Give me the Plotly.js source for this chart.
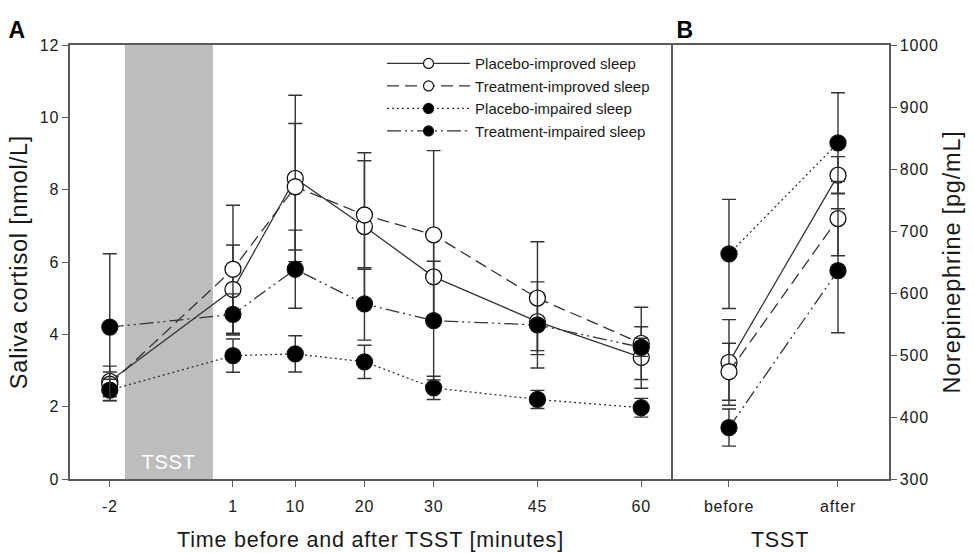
<!DOCTYPE html>
<html>
<head>
<meta charset="utf-8">
<script src="https://cdn.plot.ly/plotly-3.0.1.min.js"></script>
<style>
html,body{margin:0;padding:0;background:#fff;}
#chart{width:974px;height:553px;}
#chart text{letter-spacing:0.8px;}
#chart .legend text{letter-spacing:0;}
</style>
</head>
<body>
<div id="chart"></div>
<script>
// ---- Panel A: saliva cortisol ----
const timeLabels = ['-2', '1', '10', '20', '30', '45', '60'];
const timePos = [-16.8, 1, 10, 20, 30, 45, 60];

const seriesNames = ['Placebo-improved sleep', 'Treatment-improved sleep', 'Placebo-impaired sleep', 'Treatment-impaired sleep'];

const cortPlaceboImproved = [2.70, 5.24, 8.31, 6.98, 5.59, 4.35, 3.36];
const cortPlaceboImprovedSE = [0.42, 1.23, 2.30, 2.04, 1.16, 0.80, 0.85];
const cortTreatImproved = [2.62, 5.80, 8.08, 7.30, 6.75, 5.00, 3.75];
const cortTreatImprovedSE = [0.34, 1.77, 1.75, 1.50, 2.33, 1.56, 1.00];
const cortPlaceboImpaired = [2.46, 3.41, 3.46, 3.24, 2.52, 2.20, 1.97];
const cortPlaceboImpairedSE = [0.30, 0.46, 0.50, 0.46, 0.32, 0.25, 0.26];
const cortTreatImpaired = [4.20, 4.55, 5.80, 4.84, 4.38, 4.26, 3.64];
const cortTreatImpairedSE = [2.03, 0.57, 1.08, 1.00, 1.64, 1.19, 0.25];

// ---- Panel B: norepinephrine ----
const tsstLabels = ['before', 'after'];
const nePlaceboImproved = [488, 790];
const nePlaceboImprovedSE = [69, 30];
const neTreatImproved = [473, 720];
const neTreatImprovedSE = [46, 60];
const nePlaceboImpaired = [663, 842];
const nePlaceboImpairedSE = [88, 81];
const neTreatImpaired = [383, 636];
const neTreatImpairedSE = [30, 100];

const tsstStart = -14.6, tsstEnd = -1.9;

const styles = [
  {dash: 'solid', fill: '#ffffff'},
  {dash: '12px,6px', fill: '#ffffff'},
  {dash: '2px,3px', fill: '#000000'},
  {dash: '14px,4px,2px,4px,2px,4px', fill: '#000000'}
];
const lineColor = '#333333';

function trace(x, y, se, i, xa, ya) {
  return {
    type: 'scatter', mode: 'lines+markers',
    x: x, y: y, xaxis: xa, yaxis: ya,
    name: seriesNames[i], showlegend: false,
    line: {color: lineColor, width: 1.3, dash: styles[i].dash},
    marker: {symbol: 'circle', size: 16, color: styles[i].fill, line: {color: '#111', width: 1.3}},
    error_y: {type: 'data', array: se, visible: true, color: lineColor, thickness: 1.4, width: 7}
  };
}
function legendTrace(i) {
  return {
    type: 'scatter', mode: 'lines+markers', x: [null], y: [null], xaxis: 'x', yaxis: 'y',
    name: seriesNames[i], showlegend: true,
    line: {color: lineColor, width: 1.3, dash: styles[i].dash},
    marker: {symbol: 'circle', size: 10, color: styles[i].fill, line: {color: '#111', width: 1.2}}
  };
}

const aVals = [cortPlaceboImproved, cortTreatImproved, cortPlaceboImpaired, cortTreatImpaired];
const aSE = [cortPlaceboImprovedSE, cortTreatImprovedSE, cortPlaceboImpairedSE, cortTreatImpairedSE];
const bVals = [nePlaceboImproved, neTreatImproved, nePlaceboImpaired, neTreatImpaired];
const bSE = [nePlaceboImprovedSE, neTreatImprovedSE, nePlaceboImpairedSE, neTreatImpairedSE];

const data = [];
for (let i = 0; i < 4; i++) data.push(trace(timePos, aVals[i], aSE[i], i, 'x', 'y'));
for (let i = 0; i < 4; i++) data.push(trace(tsstLabels, bVals[i], bSE[i], i, 'x2', 'y2'));
for (let i = 0; i < 4; i++) data.push(legendTrace(i));

const font = 'Liberation Sans, Arial, sans-serif';
const axisLine = '#5a5a5a';
const split = (671 - 70) / 819;

const layout = {
  width: 974, height: 553,
  margin: {l: 70, r: 85, t: 45, b: 74},
  paper_bgcolor: '#ffffff', plot_bgcolor: 'rgba(0,0,0,0)',
  font: {family: font, color: '#1a1a1a', size: 16},
  showlegend: true,
  legend: {x: 0.381, y: 0.995, xanchor: 'left', yanchor: 'top', bgcolor: 'rgba(0,0,0,0)',
           font: {family: font, size: 15, color: '#1a1a1a'}, itemwidth: 83, tracegroupgap: 0},
  xaxis: {domain: [0, split], anchor: 'y', range: [-22.55, 64.3],
          tickmode: 'array', tickvals: timePos, ticktext: timeLabels,
          ticks: 'outside', ticklen: 6, tickcolor: axisLine, showline: true, mirror: true,
          linecolor: axisLine, linewidth: 1.6, showgrid: false, zeroline: false,
          tickfont: {size: 16}, ticklabelstandoff: 6,
          title: {text: 'Time before and after TSST [minutes]', font: {size: 21.5}, standoff: 18}},
  yaxis: {anchor: 'x', range: [0, 12], dtick: 2, ticks: 'outside', ticklen: 6, tickcolor: axisLine,
          showline: true, mirror: true, linecolor: axisLine, linewidth: 1.6, showgrid: false, zeroline: false,
          tickfont: {size: 16},
          title: {text: 'Saliva cortisol [nmol/L]', font: {size: 23.5}, standoff: 7}},
  xaxis2: {domain: [split, 1], anchor: 'y2', type: 'category', categoryarray: tsstLabels,
           range: [-0.532, 1.468], ticks: 'outside', ticklen: 6, tickcolor: axisLine,
           showline: true, mirror: true, linecolor: axisLine, linewidth: 1.6, showgrid: false, zeroline: false,
           tickfont: {size: 16}, ticklabelstandoff: 6,
           title: {text: 'TSST', font: {size: 21.5}, standoff: 18}},
  yaxis2: {anchor: 'x2', side: 'right', range: [300, 1000], dtick: 100, ticks: 'outside', ticklen: 6,
           tickcolor: axisLine, showline: true, mirror: false, linecolor: axisLine, linewidth: 1.6,
           showgrid: false, zeroline: false, tickfont: {size: 16},
           title: {text: 'Norepinephrine [pg/mL]', font: {size: 23.5}, standoff: 9}},
  shapes: [{type: 'rect', xref: 'x', yref: 'y', x0: tsstStart, x1: tsstEnd, y0: 0, y1: 12,
            fillcolor: '#bdbdbd', line: {width: 0}, layer: 'below'}],
  annotations: [
    {text: 'TSST', xref: 'x', yref: 'y', x: (tsstStart + tsstEnd) / 2, y: 0.47, showarrow: false,
     font: {size: 20, color: '#ffffff'}},
    {text: '<b>A</b>', xref: 'paper', yref: 'paper', x: -0.077, y: 1.035, xanchor: 'left', yanchor: 'middle',
     showarrow: false, font: {size: 23, color: '#000'}},
    {text: '<b>B</b>', xref: 'paper', yref: 'paper', x: split + 0.005, y: 1.035, xanchor: 'left', yanchor: 'middle',
     showarrow: false, font: {size: 23, color: '#000'}}
  ]
};

Plotly.newPlot('chart', data, layout, {displayModeBar: false, staticPlot: true});
</script>
</body>
</html>
